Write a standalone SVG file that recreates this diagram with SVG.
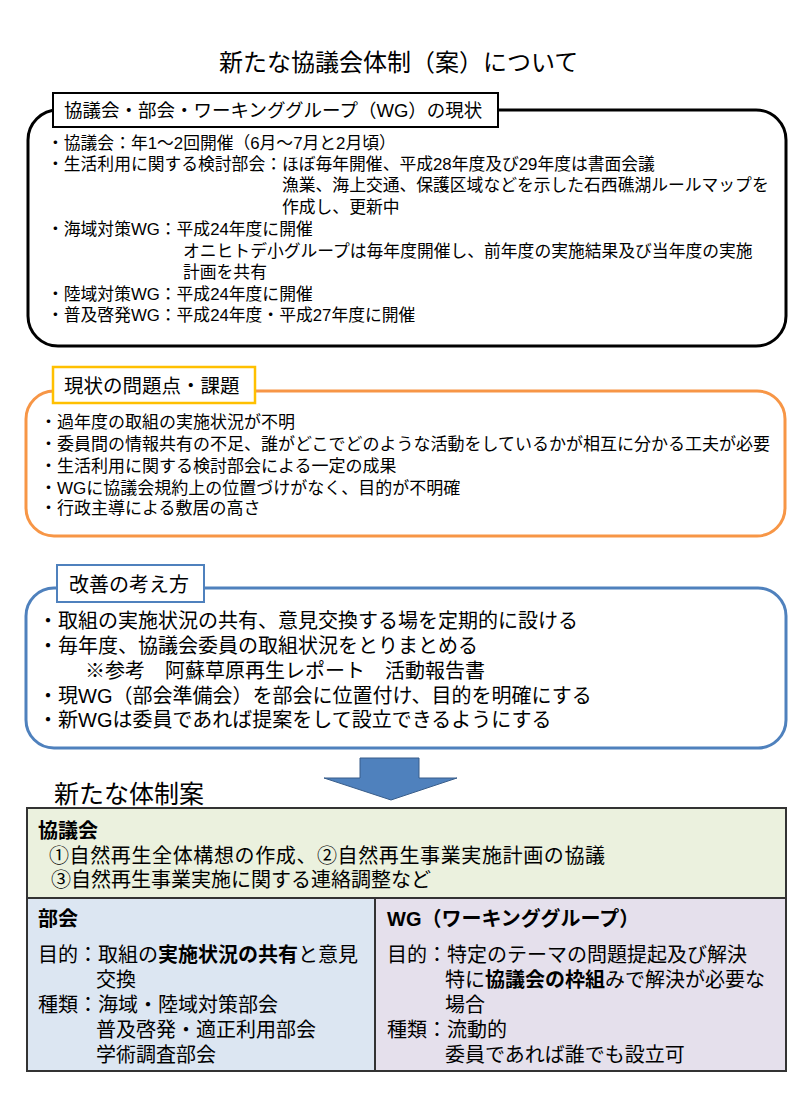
<svg xmlns="http://www.w3.org/2000/svg" width="800" height="1100" viewBox="0 0 800 1100">
<style>
text{font-family:"Liberation Sans","Noto Sans CJK JP","Noto Sans",sans-serif;fill:#000}
.t1{font-size:16.8px}
.t2{font-size:17px}
.t3{font-size:20px}
.tb{font-size:20px}
.b{font-weight:700}
.lab{fill:#fff}
</style>
<rect width="800" height="1100" fill="#fff"/>
<g id="title"><text x="219" y="71" style="font-size:24px">新たな協議会体制（案）について</text></g>

<g id="current">
<rect x="28" y="110" width="758" height="236" rx="30" fill="#fff" stroke="#000" stroke-width="3"/>
<rect class="lab" x="53" y="93" width="445" height="34" stroke="#000" stroke-width="2"/>
<text x="64" y="117" style="font-size:18.5px">協議会・部会・ワーキンググループ（WG）の現状</text>
<text class="t1" x="47" y="149">・協議会：年1〜2回開催（6月〜7月と2月頃）</text>
<text class="t1" x="47" y="170">・生活利用に関する検討部会：ほぼ毎年開催、平成28年度及び29年度は書面会議</text>
<text class="t1" x="282" y="191">漁業、海上交通、保護区域などを示した石西礁湖ルールマップを</text>
<text class="t1" x="282" y="213">作成し、更新中</text>
<text class="t1" x="47" y="235">・海域対策WG：平成24年度に開催</text>
<text class="t1" x="183" y="257">オニヒトデ小グループは毎年度開催し、前年度の実施結果及び当年度の実施</text>
<text class="t1" x="183" y="278">計画を共有</text>
<text class="t1" x="47" y="300">・陸域対策WG：平成24年度に開催</text>
<text class="t1" x="47" y="321">・普及啓発WG：平成24年度・平成27年度に開催</text>
</g>

<g id="issues">
<rect x="26" y="391" width="759" height="145" rx="28" fill="#fff" stroke="#F79646" stroke-width="3"/>
<rect class="lab" x="53" y="367" width="202" height="36" stroke="#FFC000" stroke-width="2.5"/>
<text x="64" y="393" style="font-size:19.5px">現状の問題点・課題</text>
<text class="t2" x="40" y="427.5">・過年度の取組の実施状況が不明</text>
<text class="t2" x="40" y="449.5">・委員間の情報共有の不足、誰がどこでどのような活動をしているかが相互に分かる工夫が必要</text>
<text class="t2" x="40" y="471.5">・生活利用に関する検討部会による一定の成果</text>
<text class="t2" x="40" y="493.5">・WGに協議会規約上の位置づけがなく、目的が不明確</text>
<text class="t2" x="40" y="513.5">・行政主導による敷居の高さ</text>
</g>

<g id="improve">
<rect x="26" y="588" width="760" height="160" rx="28" fill="#fff" stroke="#4F81BD" stroke-width="3"/>
<rect class="lab" x="57" y="565" width="147" height="37" stroke="#4F81BD" stroke-width="2"/>
<text x="69" y="591.6" style="font-size:20px">改善の考え方</text>
<text class="t3" x="38" y="627.6">・取組の実施状況の共有、意見交換する場を定期的に設ける</text>
<text class="t3" x="38" y="652.6">・毎年度、協議会委員の取組状況をとりまとめる</text>
<text class="t3" x="85" y="677.6">※参考　阿蘇草原再生レポート　活動報告書</text>
<text class="t3" x="38" y="702.6">・現WG（部会準備会）を部会に位置付け、目的を明確にする</text>
<text class="t3" x="38" y="726.6">・新WGは委員であれば提案をして設立できるようにする</text>
</g>

<g id="connectors">
<polygon points="360,758 419,758 419,778 457,778 391,800 324,778 360,778" fill="#4F81BD" stroke="#385D8A" stroke-width="1"/>
</g>

<g id="newplan-title"><text x="54" y="803" style="font-size:25px">新たな体制案</text></g>

<g id="council">
<rect x="27" y="808" width="759" height="90" fill="#EBF1DE" stroke="#333" stroke-width="2"/>
<text class="tb b" x="38" y="837.6">協議会</text>
<text class="tb" x="49" y="862.6" textLength="556" lengthAdjust="spacing">①自然再生全体構想の作成、②自然再生事業実施計画の協議</text>
<text class="tb" x="51" y="886.6">③自然再生事業実施に関する連絡調整など</text>
</g>

<g id="bukai">
<rect x="27" y="898" width="348" height="173" fill="#DCE6F2" stroke="#333" stroke-width="2"/>
<text class="tb b" x="38" y="925.6">部会</text>
<text class="tb" x="38" y="961.6">目的：取組の<tspan class="b">実施状況の共有</tspan>と意見</text>
<text class="tb" x="96" y="986.6">交換</text>
<text class="tb" x="38" y="1011.6">種類：海域・陸域対策部会</text>
<text class="tb" x="96" y="1036.6">普及啓発・適正利用部会</text>
<text class="tb" x="96" y="1061.6">学術調査部会</text>
</g>

<g id="wg">
<rect x="375" y="898" width="411" height="173" fill="#E5E0EC" stroke="#333" stroke-width="2"/>
<text class="tb b" x="387" y="925.6">WG（ワーキンググループ）</text>
<text class="tb" x="387" y="961.6">目的：特定のテーマの問題提起及び解決</text>
<text class="tb" x="445" y="986.6">特に<tspan class="b">協議会の枠組</tspan>みで解決が必要な</text>
<text class="tb" x="445" y="1011.6">場合</text>
<text class="tb" x="387" y="1036.6">種類：流動的</text>
<text class="tb" x="445" y="1061.6">委員であれば誰でも設立可</text>
</g>
</svg>
